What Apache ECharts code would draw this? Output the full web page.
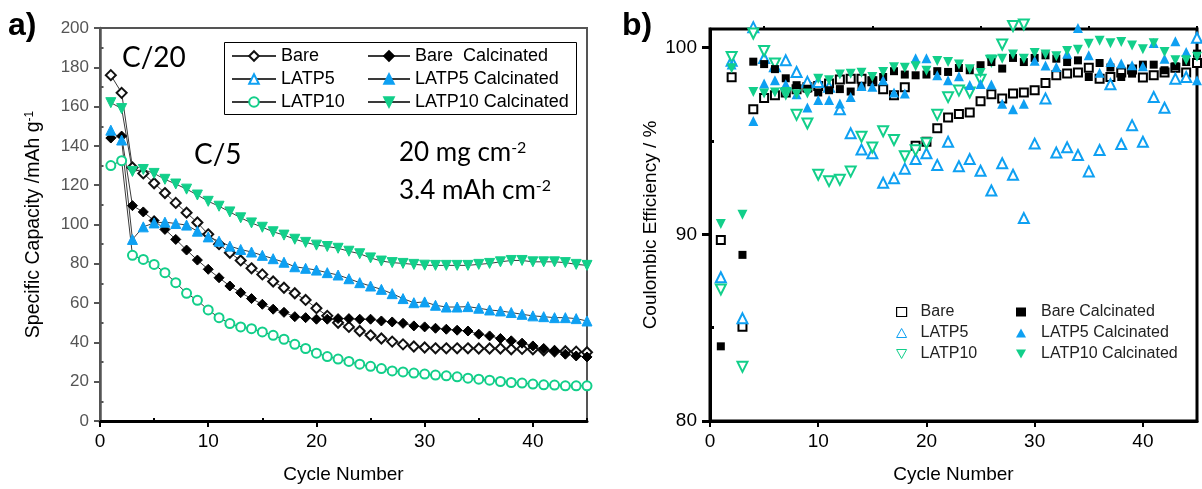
<!DOCTYPE html>
<html><head><meta charset="utf-8">
<script src="https://cdn.jsdelivr.net/npm/echarts@6/dist/echarts.min.js"></script>
<style>html,body{margin:0;padding:0;background:#fff}#c{width:1202px;height:489px}</style>
</head><body><div id="c"></div>
<script>
// ---------- DATA ----------
const cycles = [1,2,3,4,5,6,7,8,9,10,11,12,13,14,15,16,17,18,19,20,21,22,23,24,25,26,27,28,29,30,31,32,33,34,35,36,37,38,39,40,41,42,43,44,45];

// (a) specific capacity, mAh/g
const capBare = [176,167,129,126,121,116,111,106,101,95,90,85.6,81.7,77.7,74.6,71,67.8,65,61.6,57.4,53.5,50,47.9,45.8,43.6,42,40.4,39,37.9,37.4,37,37,37,37,36.9,36.9,36.9,36.5,36.7,36.5,36,35.5,35.5,35.3,35];
const capBareCalc = [144,145,109.6,106.4,102,97.5,92.4,87,81.9,77.2,72.9,68.7,65.3,62.3,59.4,56.9,55.3,53.1,52.6,51.8,51.8,52.1,52.1,51.8,51.8,50.9,50.4,49.7,48.4,47.9,47.2,46.7,46.2,45.8,44.2,43.3,42,40.8,39.6,38.2,36.9,35.7,34,33.1,32.6];
const capLATP5 = [];
const capLATP5Calc = [148,143,92.4,98.8,100.8,101.2,100.5,99.7,96.6,93.7,91.5,89,87.3,86,84.3,82.6,80.8,78.5,77.7,76.8,75.5,74.3,72.4,70.4,68.7,67,64.8,62.3,60.2,60.6,58.9,58,58,58.2,57.4,56.5,56,55.2,54.3,53.5,53.1,52.6,52.6,52.1,50.9];
const capLATP10 = [130,132.5,84.3,82.2,79.7,75.5,70.4,65,61.4,56.5,52.6,49.6,47.9,47,45.3,43.6,41.6,39,36.9,34.5,32.8,31.5,30.3,28.9,27.8,26.7,25.5,25,24.4,23.9,23.4,23,22.5,21.8,21.3,20.8,20.1,19.6,19.3,18.8,18.4,18.3,17.9,17.9,17.9];
const capLATP10Calc = [162,159,127,128,126,123,120.6,118,115,111.8,109.3,106.4,103.4,100.8,98.6,96.3,94.6,92.5,90.9,89.5,88.8,87.9,86.4,85.1,83,81.4,80.6,80.2,79.7,79.3,79.2,79.2,79.2,79.2,79.7,80.2,81,81.7,81.7,81,81,81,80.6,79.7,79.2];

// (b) coulombic efficiency, %
const ceBare = [89.7,98.42,85.05,96.7,97.3,97.45,97.6,97.77,97.88,97.95,98.08,98.3,98.34,98.34,98.2,97.77,97.45,97.88,94.75,94.96,95.68,96.26,96.44,96.53,97.13,97.5,97.28,97.55,97.6,97.72,98.11,98.52,98.61,98.67,98.93,98.34,98.43,98.67,98.83,98.4,98.52,98.67,98.93,98.67,99.18];
const ceBareCalc = [84.0,null,88.9,99.25,99.12,98.85,98.36,97.99,97.8,97.6,97.72,97.78,97.65,97.94,98.25,98.43,98.74,98.56,98.52,98.56,98.74,98.7,98.91,98.79,99.06,99.23,98.88,99.45,99.23,99.45,99.59,99.41,99.23,99.32,98.43,99.18,98.94,98.43,98.61,99.09,99.09,98.79,99.0,99.23,99.68];
const ceLATP5 = [87.7,99.3,85.5,101.1,99.45,99.0,99.32,98.7,98.17,98.16,97.9,96.7,95.41,94.54,94.34,92.76,93.0,93.52,94.03,94.34,93.72,94.96,93.65,94.03,93.41,92.35,93.81,93.19,90.87,94.86,97.28,94.38,94.66,94.25,93.37,94.52,98.04,94.84,95.85,94.96,97.36,96.78,98.34,98.43,100.53];
const ceLATP5Calc = [null,99.1,null,96.07,98.08,98.25,98.04,97.5,96.79,97.19,97.19,97.01,97.36,97.95,97.9,98.25,97.6,97.55,99.43,99.43,98.52,98.25,98.47,98.0,98.06,98.03,97.0,96.7,97.0,99.3,99.04,98.97,99.68,101.06,99.59,98.65,99.23,99.15,99.06,99.0,100.25,99.4,100.34,99.77,98.25];
const ceLATP10 = [87.05,99.5,82.9,100.76,99.82,99.15,97.55,96.4,95.94,93.19,92.85,92.92,93.36,95.23,94.65,95.52,95.05,94.18,94.5,94.88,96.4,97.35,97.7,97.6,98.28,99.3,100.17,101.16,101.24];
const ceLATP10Calc = [90.55,98.9,91.05,97.63,97.55,97.6,97.63,97.5,97.55,98.34,98.25,98.56,98.6,98.65,98.43,98.7,98.95,98.93,99.01,98.77,99.28,99.23,99.1,98.85,98.64,99.36,99.41,99.64,99.41,99.71,99.64,99.54,99.82,99.89,100.21,100.37,100.23,100.3,100.12,99.92,100.23,99.77,99.32,99.32,99.52];

// axis ticks
const xMajor = [0,10,20,30,40];
const xMinor = [5,15,25,35,45];
const capMajor = [0,20,40,60,80,100,120,140,160,180,200];
const capMinor = [10,30,50,70,90,110,130,150,170,190];
const ceMajor = [80,90,100];
const ceMinor = [85,95];

// ---------- STYLE ----------
const BLUE = '#0ea0f2';
const GREEN = '#12cf8a';
const FONT = '"Liberation Sans", Arial, sans-serif';
const DOWN = 'path://M0,0L10,0L5,9Z';
const UP = 'path://M5,0L10,9L0,9Z';
const pairs = arr => arr.map((v,i)=>[cycles[i], v]).filter(p => p[1] !== null && p[1] !== undefined);

const chart = echarts.init(document.getElementById('c'), null, {renderer:'canvas'});

function lineSer(name, data, symbol, color, size, rotate){
  return {type:'line', name, xAxisIndex:0, yAxisIndex:0, data:pairs(data), symbol, symbolSize:size,
    symbolRotate: rotate||0, showAllSymbol:true, animation:false,
    lineStyle:{color:'#3a3a3a', width:1}, itemStyle:{color, borderColor:color, borderWidth:1}, z:3};
}
function scatSer(name, data, symbol, color, size, rotate, bw){
  return {type:'scatter', name, xAxisIndex:2, yAxisIndex:2, data:pairs(data), symbol, symbolSize:size,
    symbolRotate: rotate||0, clip:false, animation:false,
    itemStyle:{color, borderColor: symbol.indexOf('empty')===0 ? color : undefined, borderWidth: symbol.indexOf('empty')===0 ? (bw||1.2) : 0, opacity:1}, z:3};
}

const hide = {show:false};
function mainX(grid){
  return {type:'value', gridIndex:grid, min:0, max:45,
    axisLine:{show:true, onZero:false, lineStyle:{color:'#000', width:3}},
    axisTick:{show:true, customValues:xMajor, length:6, lineStyle:{color:'#000', width:2}},
    axisLabel:{customValues:xMajor, fontSize:19, color:'#000', fontFamily:FONT, margin:11},
    splitLine:hide,
    name:'Cycle Number', nameLocation:'middle', nameGap:44,
    nameTextStyle:{fontSize:19, color:'#000', fontFamily:FONT}};
}
function minorX(grid){
  return {type:'value', gridIndex:grid, min:0, max:45, axisLine:hide, axisLabel:hide, splitLine:hide,
    axisTick:{show:true, customValues:xMinor, length:3, lineStyle:{color:'#000', width:2}}};
}

const option = {
  backgroundColor:'#fff',
  animation:false,
  grid:[
    {left:100, top:28, width:487, height:394, show:true, borderColor:'#555', borderWidth:2, backgroundColor:'transparent'},
    {left:710, top:29, width:487, height:393, show:true, borderColor:'#000', borderWidth:3, backgroundColor:'transparent'}
  ],
  xAxis:[ mainX(0), minorX(0), mainX(1), minorX(1) ],
  yAxis:[
    {type:'value', gridIndex:0, min:0, max:200,
      axisLine:{show:true, lineStyle:{color:'#555', width:2.5}},
      axisTick:{show:true, customValues:capMajor, length:6, lineStyle:{color:'#555', width:2}},
      axisLabel:{customValues:capMajor, fontSize:17, color:'#555', fontFamily:FONT, margin:11},
      splitLine:hide,
      name:'{t|Specific Capacity /mAh g}{s|-1}', nameLocation:'middle', nameGap:56, nameRotate:90,
      nameTextStyle:{fontFamily:FONT, rich:{t:{fontSize:19.5, color:'#000', fontFamily:FONT}, s:{fontSize:12, color:'#000', fontFamily:FONT, verticalAlign:'top'}}}},
    {type:'value', gridIndex:0, min:0, max:200, axisLine:hide, axisLabel:hide, splitLine:hide,
      axisTick:{show:true, customValues:capMinor, length:3.5, lineStyle:{color:'#555', width:2}}},
    {type:'value', gridIndex:1, min:80, max:101,
      axisLine:{show:true, lineStyle:{color:'#000', width:3}},
      axisTick:{show:true, customValues:ceMajor, length:8, lineStyle:{color:'#000', width:3}},
      axisLabel:{customValues:ceMajor, fontSize:19, color:'#000', fontFamily:FONT, margin:13},
      splitLine:hide,
      name:'Coulombic Efficiency / %', nameLocation:'middle', nameGap:50, nameRotate:90,
      nameTextStyle:{fontSize:19, color:'#000', fontFamily:FONT}},
    {type:'value', gridIndex:1, min:80, max:101, axisLine:hide, axisLabel:hide, splitLine:hide,
      axisTick:{show:true, customValues:ceMinor, length:4, lineStyle:{color:'#000', width:3}}}
  ],
  legend:[
    {data:['Bare','LATP5','LATP10'], orient:'vertical', left:226, top:42, itemWidth:44, itemHeight:12, itemGap:5,
      selectedMode:false, textStyle:{fontSize:18, color:'#000', fontFamily:FONT}},
    {data:['Bare  Calcinated','LATP5 Calcinated','LATP10 Calcinated'], orient:'vertical', left:362, top:42, itemWidth:42, itemHeight:12, itemGap:5,
      selectedMode:false, textStyle:{fontSize:18, color:'#000', fontFamily:FONT}},
    {data:[
        {name:'Bare#b', icon:'rect', itemStyle:{color:'#fff', borderColor:'#000', borderWidth:1.2}},
        {name:'LATP5#b', icon:UP, itemStyle:{color:'#fff', borderColor:BLUE, borderWidth:1}},
        {name:'LATP10#b', icon:DOWN, itemStyle:{color:'#fff', borderColor:GREEN, borderWidth:1}}],
      orient:'vertical', left:891, top:299, itemWidth:10, itemHeight:9, itemGap:5,
      selectedMode:false, formatter:n=>n.replace('#b',''), textStyle:{fontSize:16, color:'#222', fontFamily:FONT, padding:[0,0,0,9]}},
    {data:[
        {name:'Bare Calcinated#b', icon:'rect', itemStyle:{color:'#000'}},
        {name:'LATP5 Calcinated#b', icon:UP, itemStyle:{color:BLUE}},
        {name:'LATP10 Calcinated#b', icon:DOWN, itemStyle:{color:GREEN}}],
      orient:'vertical', left:1011, top:299, itemWidth:10, itemHeight:9, itemGap:5,
      selectedMode:false, formatter:n=>n.replace('#b',''), textStyle:{fontSize:16, color:'#222', fontFamily:FONT, padding:[0,0,0,10]}}
  ],
  graphic:[
    {type:'rect', shape:{x:224.5, y:42.5, width:352, height:72}, style:{fill:'#fff', stroke:'#000', lineWidth:1}, z:1},
    {type:'text', x:8, y:10, style:{text:'a)', font:'bold 32px '+FONT, fill:'#000'}},
    {type:'text', x:622, y:10, style:{text:'b)', font:'bold 32px '+FONT, fill:'#000'}},
    {type:'text', x:122, y:44, style:{text:'C/20', font:'28px Lato, "Open Sans", sans-serif', fill:'#000'}},
    {type:'text', x:194, y:141, style:{text:'C/5', font:'28px Lato, "Open Sans", sans-serif', fill:'#000'}},
    {type:'text', x:399, y:140, style:{text:'{n|20 mg cm}{s|-2}', rich:{n:{font:'26px Lato, "Open Sans", sans-serif', fill:'#000'}, s:{font:'16px Lato, "Open Sans", sans-serif', fill:'#000', verticalAlign:'top'}}}},
    {type:'text', x:399, y:178, style:{text:'{n|3.4 mAh cm}{s|-2}', rich:{n:{font:'26px Lato, "Open Sans", sans-serif', fill:'#000'}, s:{font:'16px Lato, "Open Sans", sans-serif', fill:'#000', verticalAlign:'top'}}}}
  ],
  series:[
    lineSer('Bare', capBare, 'emptyDiamond', '#111', 10),
    lineSer('LATP5', capLATP5, 'emptyTriangle', BLUE, 10),
    lineSer('LATP10', capLATP10, 'emptyCircle', GREEN, 9),
    lineSer('Bare  Calcinated', capBareCalc, 'diamond', '#000', 10),
    lineSer('LATP5 Calcinated', capLATP5Calc, 'triangle', BLUE, 10),
    lineSer('LATP10 Calcinated', capLATP10Calc, 'triangle', GREEN, 10, 180),

    scatSer('Bare#b', ceBare, 'emptyRect', '#000', 8, 0, 1.5),
    scatSer('LATP5#b', ceLATP5, 'emptyTriangle', BLUE, 10),
    scatSer('LATP10#b', ceLATP10, 'emptyTriangle', GREEN, 10, 180),
    scatSer('Bare Calcinated#b', ceBareCalc, 'rect', '#000', 8),
    scatSer('LATP5 Calcinated#b', ceLATP5Calc, 'triangle', BLUE, 10),
    scatSer('LATP10 Calcinated#b', ceLATP10Calc, 'triangle', GREEN, 10, 180)
  ]
};
chart.setOption(option);
</script></body></html>
